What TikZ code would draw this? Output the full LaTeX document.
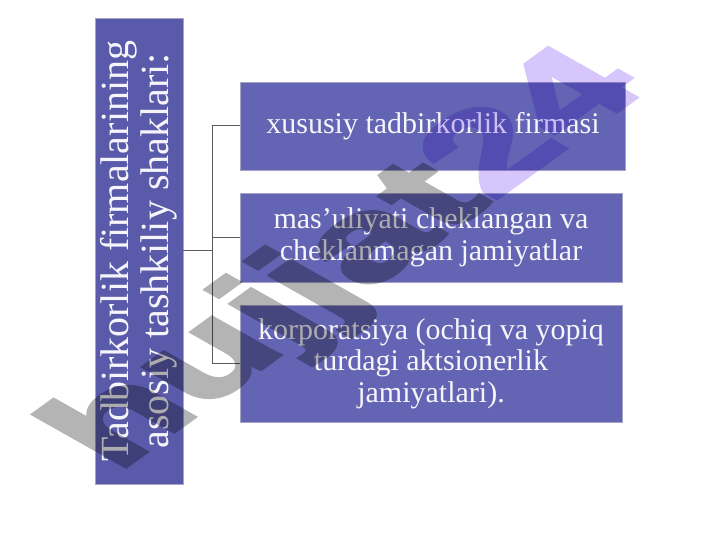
\documentclass[tikz,border=0pt]{standalone}
\usepackage{fontspec}
\setmainfont{Liberation Serif}
\newfontfamily\wmfont[BoldFeatures={FakeBold=3}]{Liberation Sans}
\definecolor{lboxc}{RGB}{90,90,170}
\definecolor{rboxc}{RGB}{100,100,180}
\definecolor{bordc}{RGB}{165,165,195}
\definecolor{txtc}{RGB}{245,245,250}
\definecolor{connc}{RGB}{90,90,90}
\definecolor{wmgrey}{RGB}{180,180,180}
\definecolor{wmlav}{RGB}{214,198,252}
\begin{document}
\begin{tikzpicture}[x=1bp,y=-1bp,
  leftbox/.style={fill=lboxc, draw=bordc, line width=0.8bp, inner sep=0,
    minimum width=466bp, minimum height=88bp, text=txtc, align=center,
    font=\fontsize{40bp}{40bp}\selectfont},
  rbox/.style={fill=rboxc, draw=bordc, line width=0.8bp, inner sep=0,
    text=txtc, align=center, font=\fontsize{30bp}{31.5bp}\selectfont},
  conn/.style={draw=connc, line width=1bp},
  wmark/.style={transform shape, inner sep=0,
    font=\wmfont\bfseries\fontsize{150bp}{150bp}\selectfont}]
\useasboundingbox[fill=white] (0,0) rectangle (720,540);
\node[leftbox, rotate=90] (L) at (139,251) {Tadbirkorlik firmalarining\\asosiy tashkiliy shaklari:};
\node[rbox, minimum width=385bp, minimum height=88bp] (B1) at (433,126) {xususiy tadbirkorlik firmasi};
\node[rbox, minimum width=382bp, minimum height=89bp] (B2) at (431,237.5) {mas’uliyati cheklangan va\\cheklanmagan jamiyatlar};
\node[rbox, minimum width=382bp, minimum height=117bp] (B3) at (431,363.5) {korporatsiya (ochiq va yopiq\\turdagi aktsionerlik\\jamiyatlari).};
\coordinate (J) at (212,251);
\draw[conn] (L.south) -- (J);
\draw[conn] (J) |- (B1.west);
\draw[conn] (J) |- (B2.west);
\draw[conn] (J) |- (B3.west);
\begin{scope}[blend mode=multiply]
\begin{scope}[transparency group]
\begin{scope}[shift={(350,262)}, cm={0.94,0.68,-0.85,0.48,(0,0)}]
\node[wmark] (W) at (0,0) {\textcolor{wmgrey}{hujjat}\textcolor{wmlav}{24}};
\end{scope}
\end{scope}
\end{scope}
\end{tikzpicture}
\end{document}
